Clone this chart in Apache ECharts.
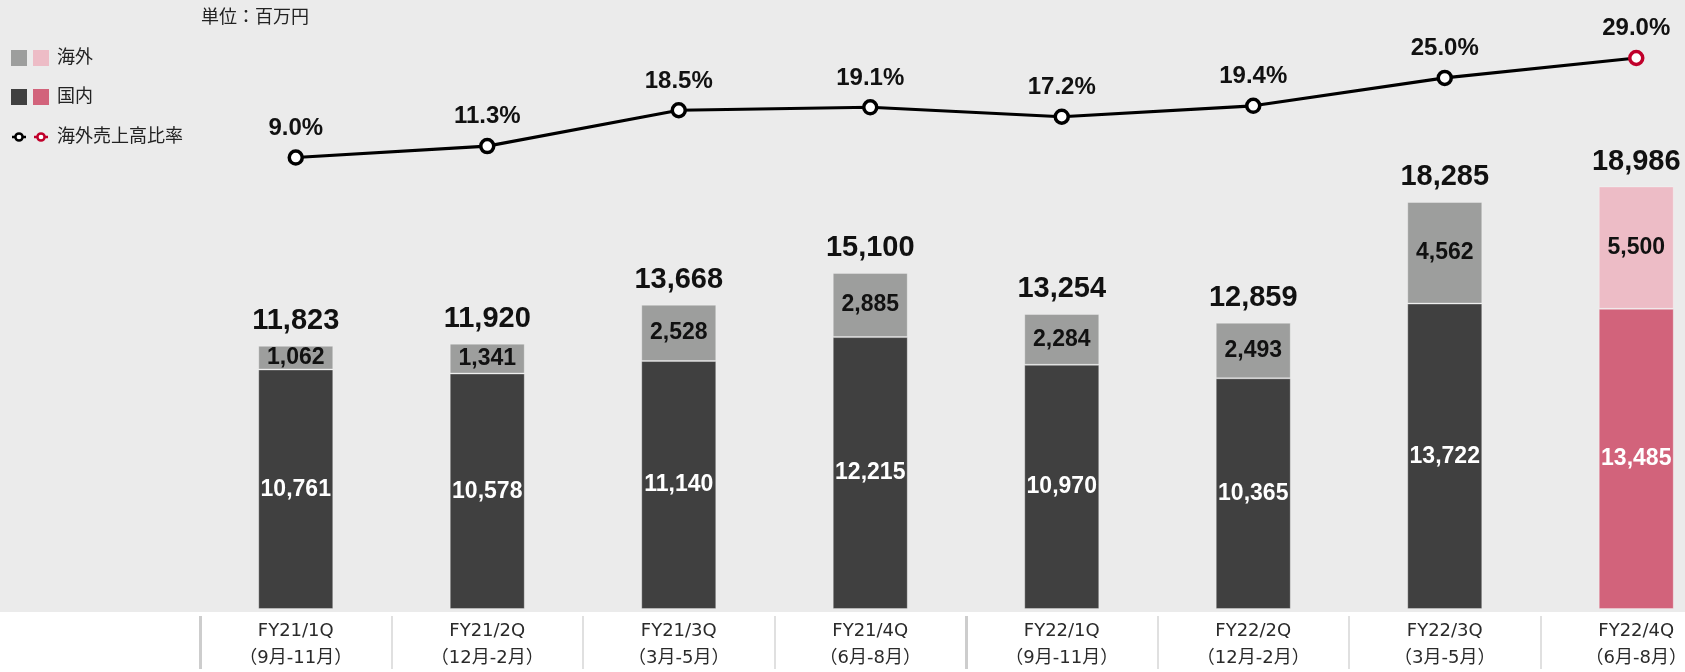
<!DOCTYPE html>
<html>
<head>
<meta charset="utf-8">
<script src="https://cdn.jsdelivr.net/npm/echarts@6/dist/echarts.min.js"></script>
<style>
  html, body { margin: 0; padding: 0; background: #ebebeb; overflow: hidden; }
  /* the plot runs a little past the right edge of the page */
  #chart { width: 1732px; height: 672px; }
</style>
</head>
<body>
<div id="chart"></div>
<script>
// Quarter labels
const quarters = ['FY21/1Q', 'FY21/2Q', 'FY21/3Q', 'FY21/4Q', 'FY22/1Q', 'FY22/2Q', 'FY22/3Q', 'FY22/4Q'];
const periods = ['（9月-11月）', '（12月-2月）', '（3月-5月）', '（6月-8月）', '（9月-11月）', '（12月-2月）', '（3月-5月）', '（6月-8月）'];

// Sales (百万円)
const domestic = [10761, 10578, 11140, 12215, 10970, 10365, 13722, 13485];
const overseas = [1062, 1341, 2528, 2885, 2284, 2493, 4562, 5500];
const totals = [11823, 11920, 13668, 15100, 13254, 12859, 18285, 18986];

// Overseas sales ratio (%)
const overseasRatio = [9.0, 11.3, 18.5, 19.1, 17.2, 19.4, 25.0, 29.0];

// Index of the forecast quarter, drawn in the red palette
const highlightIndex = 7;

const C = {
  bg: '#ebebeb',
  dark: '#404040',
  gray: '#9d9e9d',
  darkHi: '#d2637b',
  grayHi: '#edbcc6',
  red: '#c0002b',
  text: '#222222'
};

const latin = '"Liberation Sans", Arial, sans-serif';
const cjk = '"Noto Sans CJK JP", sans-serif';

const fmt = v => v.toLocaleString('en-US');

const domesticData = domestic.map((v, i) => i === highlightIndex
  ? { value: v, itemStyle: { color: C.darkHi } } : v);
const overseasData = overseas.map((v, i) => i === highlightIndex
  ? { value: v, itemStyle: { color: C.grayHi } } : v);
const ratioData = overseasRatio.map((v, i) => i === highlightIndex
  ? { value: v, itemStyle: { borderColor: C.red } } : v);

const chart = echarts.init(document.getElementById('chart'));

// category axes used only for the vertical separators in the label band
const sepAxis = (extra) => Object.assign({
  type: 'category',
  data: quarters,
  position: 'bottom',
  offset: 7,
  axisLine: { show: false, onZero: false },
  axisLabel: { show: false },
  splitLine: { show: false }
}, extra);

chart.setOption({
  backgroundColor: C.bg,
  animation: false,
  grid: { left: 200, top: 0, right: 0, bottom: 60 },
  xAxis: [
    {
      type: 'category',
      data: quarters,
      position: 'bottom',
      axisLine: { show: false, onZero: false },
      axisTick: { show: false },
      axisLabel: {
        margin: 9,
        fontSize: 18,
        lineHeight: 27,
        color: '#2a2a2a',
        fontFamily: '"DejaVu Sans", "Noto Sans CJK JP", sans-serif',
        formatter: (v, i) => v + '\n' + periods[i]
      }
    },
    sepAxis({
      axisTick: { show: true, length: 53, interval: 0, lineStyle: { color: '#e0e0e0', width: 2 } }
    }),
    sepAxis({
      axisTick: { show: true, length: 53, interval: (i) => i % 4 === 0, lineStyle: { color: '#cdcdcd', width: 3 } }
    })
  ],
  yAxis: [
    { type: 'value', min: 0, max: 27360, show: false, splitLine: { show: false } },
    { type: 'value', min: -81.74, max: 40.66, show: false, splitLine: { show: false } }
  ],
  series: [
    {
      name: '国内',
      type: 'bar',
      stack: 'sales',
      barWidth: 75,
      data: domesticData,
      itemStyle: { color: C.dark, borderColor: 'rgba(255,255,255,0.3)', borderWidth: 1 },
      label: {
        show: true,
        position: 'inside',
        color: '#ffffff',
        fontSize: 23,
        fontWeight: 'bold',
        fontFamily: latin,
        formatter: p => fmt(p.value)
      }
    },
    {
      name: '海外',
      type: 'bar',
      stack: 'sales',
      barWidth: 75,
      data: overseasData,
      itemStyle: { color: C.gray, borderColor: 'rgba(255,255,255,0.3)', borderWidth: 1 },
      label: {
        show: true,
        position: 'inside',
        color: '#111111',
        fontSize: 23,
        fontWeight: 'bold',
        fontFamily: latin,
        formatter: p => fmt(p.value)
      }
    },
    {
      name: '合計',
      type: 'bar',
      barWidth: 75,
      barGap: '-100%',
      silent: true,
      data: totals,
      itemStyle: { color: 'rgba(0,0,0,0)' },
      label: {
        show: true,
        position: 'top',
        distance: 10,
        color: '#111111',
        fontSize: 29,
        fontWeight: 'bold',
        fontFamily: latin,
        formatter: p => fmt(p.value)
      },
      z: 3
    },
    {
      name: '海外売上高比率',
      type: 'line',
      yAxisIndex: 1,
      data: ratioData,
      symbol: 'circle',
      symbolSize: 13,
      lineStyle: { color: '#000000', width: 3.2 },
      itemStyle: { color: '#ffffff', borderColor: '#000000', borderWidth: 3.5 },
      label: {
        show: true,
        position: 'top',
        distance: 9,
        color: '#111111',
        fontSize: 24,
        fontWeight: 'bold',
        fontFamily: latin,
        formatter: p => p.value.toFixed(1) + '%'
      },
      z: 5
    }
  ],
  graphic: [
    // white band behind the category labels
    { type: 'rect', left: 0, bottom: 0, z: -10, shape: { width: 1732, height: 60 }, style: { fill: '#ffffff' } },
    // unit note
    { type: 'text', left: 201, top: 7, style: { text: '単位：百万円', fill: C.text, font: '18px ' + cjk } },
    // legend: 海外
    { type: 'rect', left: 11, top: 50, shape: { width: 16, height: 16 }, style: { fill: C.gray } },
    { type: 'rect', left: 33, top: 50, shape: { width: 16, height: 16 }, style: { fill: C.grayHi } },
    { type: 'text', left: 57, top: 47, style: { text: '海外', fill: C.text, font: '18px ' + cjk } },
    // legend: 国内
    { type: 'rect', left: 11, top: 89, shape: { width: 16, height: 16 }, style: { fill: C.dark } },
    { type: 'rect', left: 33, top: 89, shape: { width: 16, height: 16 }, style: { fill: C.darkHi } },
    { type: 'text', left: 57, top: 86, style: { text: '国内', fill: C.text, font: '18px ' + cjk } },
    // legend: 海外売上高比率
    { type: 'line', shape: { x1: 12, y1: 137, x2: 26, y2: 137 }, style: { stroke: '#000', lineWidth: 2.5 } },
    { type: 'circle', shape: { cx: 19, cy: 137, r: 3.6 }, style: { fill: '#fff', stroke: '#000', lineWidth: 2.5 } },
    { type: 'line', shape: { x1: 34, y1: 137, x2: 48, y2: 137 }, style: { stroke: C.red, lineWidth: 2.5 } },
    { type: 'circle', shape: { cx: 41, cy: 137, r: 3.6 }, style: { fill: '#fff', stroke: C.red, lineWidth: 2.5 } },
    { type: 'text', left: 57, top: 126, style: { text: '海外売上高比率', fill: C.text, font: '18px ' + cjk } }
  ]
});
</script>
</body>
</html>
